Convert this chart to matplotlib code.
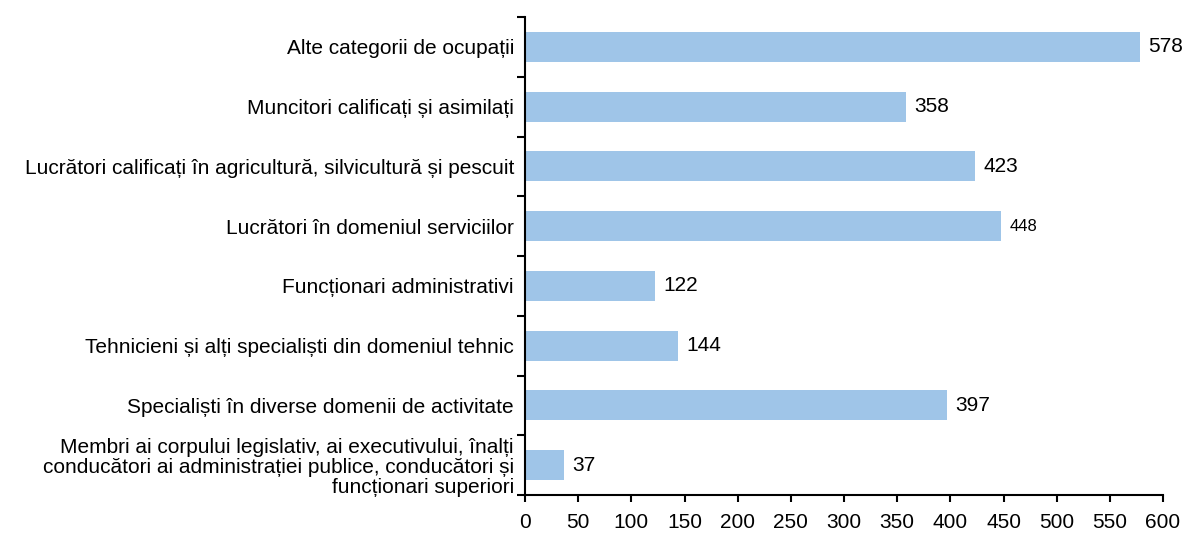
import numpy as np
import matplotlib.pyplot as plt

plt.rcParams['font.family'] = ['Liberation Sans', 'DejaVu Sans']

# categories, top to bottom as in the picture
categories = [
    "Alte categorii de ocupații",
    "Muncitori calificați și asimilați",
    "Lucrători calificați în agricultură, silvicultură și pescuit",
    "Lucrători în domeniul serviciilor",
    "Funcționari administrativi",
    "Tehnicieni și alți specialiști din domeniul tehnic",
    "Specialiști în diverse domenii de activitate",
    "Membri ai corpului legislativ, ai executivului, înalți\n"
    "conducători ai administrației publice, conducători și\n"
    "funcționari superiori",
]
values = [578, 358, 423, 448, 122, 144, 397, 37]
xticks = list(range(0, 601, 50))

fig = plt.figure(figsize=(11.83, 5.33), dpi=100)
ax = fig.add_axes([0.4438, 0.0713, 0.9831 - 0.4438, 0.968 - 0.0713])

n = len(categories)
ypos = np.arange(n)[::-1]
ax.barh(ypos, values, height=0.5, color='#9FC5E8')

for y, v in zip(ypos, values):
    fs = 12 if v == 448 else 15
    ax.annotate(str(v), (v, y), xytext=(6, 0), textcoords='offset points',
                va='center', ha='left', fontsize=fs)

ax.set_xlim(0, 600)
ax.set_ylim(-0.5, n - 0.5)
ax.set_xticks(xticks)
ax.tick_params(axis='x', labelsize=15, length=5, width=1.5, direction='out', pad=8)

# major ticks at category borders, labels on minor ticks at centers
ax.set_yticks(np.arange(-0.5, n, 1.0))
ax.set_yticklabels([])
ax.set_yticks(ypos, minor=True)
ax.set_yticklabels(categories, minor=True, fontsize=15, ha='right',
                   linespacing=1.05)
ax.tick_params(axis='y', which='major', length=6, width=1.5, direction='out')
ax.tick_params(axis='y', which='minor', length=0, pad=8)

for s in ['top', 'right']:
    ax.spines[s].set_visible(False)
for s in ['left', 'bottom']:
    ax.spines[s].set_linewidth(1.5)

fig.savefig('out.png', dpi=100)
